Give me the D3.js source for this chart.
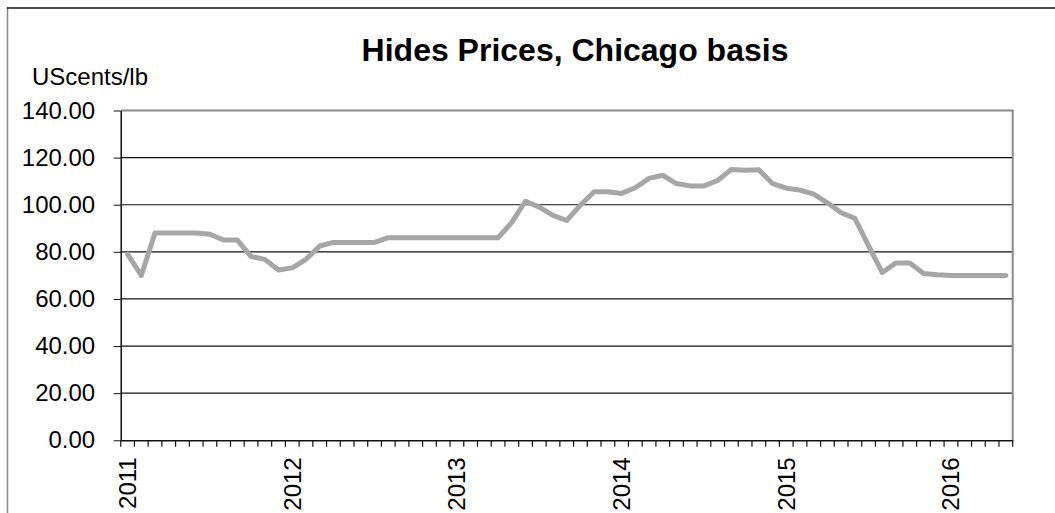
<!DOCTYPE html>
<html>
<head>
<meta charset="utf-8">
<script src="https://cdn.jsdelivr.net/npm/d3@7"></script>
<style>
	body { margin: 0; background: #fff; }
	svg { display: block; font-family: 'Liberation Sans', Arial, sans-serif; }
</style>
</head>
<body>
<div class="chart"></div>
<script>
// monthly data, Jan 2011 - May 2016
let startYear = 2011;
let months = d3.range(65).map((i) => (startYear + Math.floor(i / 12)) + '-' + String((i % 12) + 1).padStart(2, '0'));
let prices = [
	79, 70, 88, 88, 88, 88, 87.5, 85, 85, 78, 76.8, 72.3,
	73.2, 76.8, 82.5, 84, 84, 84, 84, 86, 86, 86, 86, 86,
	86, 86, 86, 86, 92.5, 101.5, 99, 95.5, 93.3, 99.8, 105.5, 105.5,
	104.8, 107.2, 111.2, 112.5, 109, 108, 108, 110.3, 115, 114.6, 114.8, 109,
	107, 106.2, 104.5, 100.8, 96.6, 94.2, 82.5, 71.2, 75.3, 75.3, 70.8, 70.3,
	70, 70, 70, 70, 70
];
let yTicks = [0, 20, 40, 60, 80, 100, 120, 140];

let w = 1055;
let h = 513;
let plotL = 120.7, plotR = 1012.7, plotT = 110.5, plotB = 440.3;

let svg = d3.select('.chart').append('svg').attr('width', w).attr('height', h);

// outer chart border
svg.append('line').attr('x1', 7.5).attr('x2', 7.5).attr('y1', 7).attr('y2', h).attr('stroke', '#888').attr('stroke-width', 1.5);
svg.append('line').attr('x1', 7).attr('x2', w).attr('y1', 8).attr('y2', 8).attr('stroke', '#111').attr('stroke-width', 1.5);

let xScale = d3.scaleBand().domain(months).range([ plotL, plotR ]);
let yScale = d3.scaleLinear().domain([ 0, 140 ]).range([ plotB, plotT ]);

// gridlines
svg
	.append('g')
	.selectAll('line')
	.data(yTicks.filter((d) => d > 0 && d < 140))
	.enter()
	.append('line')
	.attr('x1', plotL)
	.attr('x2', plotR)
	.attr('y1', (d) => yScale(d))
	.attr('y2', (d) => yScale(d))
	.attr('stroke', '#111')
	.attr('stroke-width', 1.2);

// plot border top / right
svg.append('path')
	.attr('d', 'M' + plotL + ',' + yScale(140) + 'H' + plotR + 'V' + plotB)
	.attr('fill', 'none')
	.attr('stroke', '#888')
	.attr('stroke-width', 2);

// y axis
let yAxis = svg
	.append('g')
	.attr('transform', 'translate(' + plotL + ',0)')
	.call(d3.axisLeft(yScale).tickValues(yTicks).tickFormat(d3.format('.2f')).tickSize(7).tickPadding(18.5).tickSizeOuter(0));
yAxis.select('.domain').attr('stroke', '#111').attr('stroke-width', 1.5);
yAxis.selectAll('.tick line').attr('stroke', '#111');
yAxis.selectAll('text').attr('font-size', '24px').attr('fill', '#000').attr('font-family', 'Liberation Sans, Arial, sans-serif');

// x axis
let xAxis = svg
	.append('g')
	.attr('transform', 'translate(0,' + plotB + ')')
	.call(d3.axisBottom(xScale).tickValues(months.filter((d) => d.endsWith('-01'))).tickFormat((d) => d.split('-')[0]).tickSize(0).tickSizeOuter(0));
xAxis.select('.domain').attr('stroke', '#111').attr('stroke-width', 1.5);
xAxis
	.selectAll('text')
	.attr('font-size', '24px')
	.attr('fill', '#000')
	.attr('font-family', 'Liberation Sans, Arial, sans-serif')
	.attr('transform', 'rotate(-90)')
	.attr('text-anchor', 'end')
	.attr('x', -17)
	.attr('y', 0)
	.attr('dy', '0.35em');

// tick marks between months
svg
	.append('g')
	.selectAll('line')
	.data(months.map((d) => xScale(d)).concat([ plotR ]))
	.enter()
	.append('line')
	.attr('x1', (d) => d)
	.attr('x2', (d) => d)
	.attr('y1', plotB)
	.attr('y2', plotB + 6.5)
	.attr('stroke', '#111')
	.attr('stroke-width', 1.2);

// line
let line = d3
	.line()
	.x((d, i) => xScale(months[i]) + xScale.bandwidth() / 2)
	.y((d) => yScale(d));

svg
	.append('path')
	.datum(prices)
	.attr('d', line)
	.attr('fill', 'none')
	.attr('stroke', '#a6a6a6')
	.attr('stroke-width', 5)
	.attr('stroke-linejoin', 'round')
	.attr('stroke-linecap', 'round');

// title
svg
	.append('text')
	.attr('x', 575)
	.attr('y', 61)
	.attr('text-anchor', 'middle')
	.attr('font-size', '32px')
	.attr('font-weight', 'bold')
	.text('Hides Prices, Chicago basis');

// unit label
svg
	.append('text')
	.attr('x', 32)
	.attr('y', 85)
	.attr('font-size', '24px')
	.text('UScents/lb');
</script>
</body>
</html>
